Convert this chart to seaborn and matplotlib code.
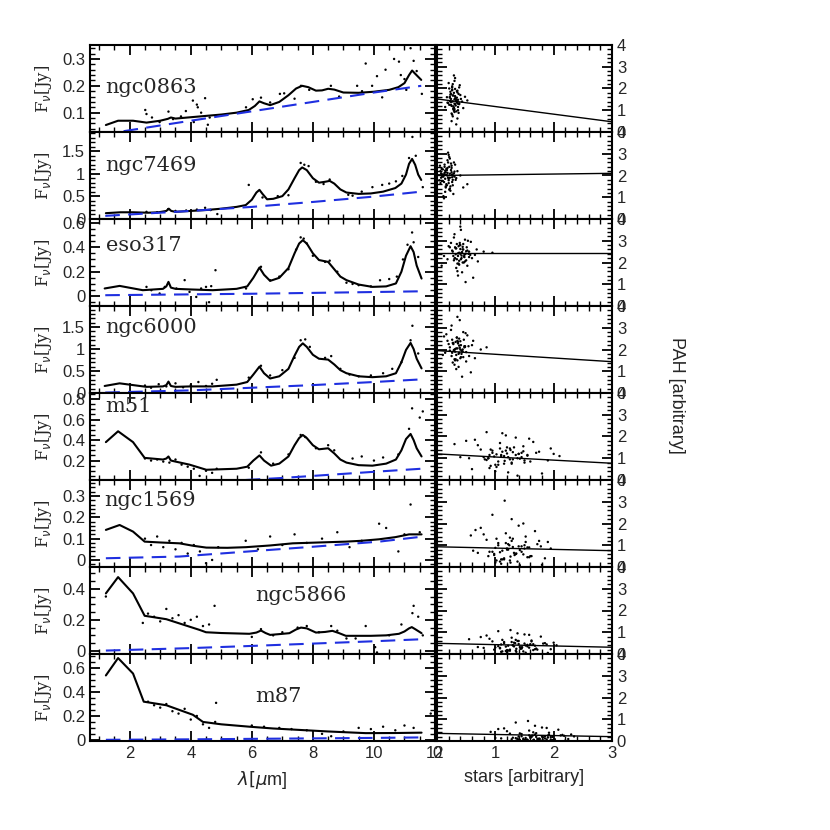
import matplotlib
matplotlib.use("Agg")
import matplotlib.pyplot as plt
import seaborn as sns
import pandas as pd
from matplotlib.ticker import MultipleLocator, FuncFormatter

sns.set_style("ticks")
plt.rcParams['font.family'] = ['Liberation Sans', 'DejaVu Sans']
plt.rcParams['mathtext.fontset'] = 'dejavusans'

names = ['ngc0863', 'ngc7469', 'eso317', 'ngc6000', 'm51', 'ngc1569', 'ngc5866', 'm87']

# model spectra (solid black)
fit_x = {
    'ngc0863': [1.22, 1.62, 2.11, 2.55, 3.0, 3.25, 3.35, 3.5, 4.0, 4.5, 5.0, 5.5, 5.9, 6.1, 6.25, 6.4, 6.6, 6.9, 7.2, 7.45, 7.65, 7.85, 8.1, 8.3, 8.5, 8.7, 9.0, 9.5, 10.0, 10.5, 10.8, 11.0, 11.15, 11.25, 11.35, 11.55],
    'ngc7469': [1.22, 1.7, 2.1, 2.6, 2.95, 3.2, 3.28, 3.36, 3.5, 4.0, 4.5, 5.0, 5.5, 5.8, 6.0, 6.15, 6.25, 6.35, 6.5, 6.7, 7.0, 7.2, 7.4, 7.55, 7.65, 7.8, 8.0, 8.2, 8.4, 8.55, 8.7, 8.9, 9.1, 9.5, 9.9, 10.3, 10.7, 10.9, 11.05, 11.15, 11.25, 11.35, 11.45, 11.55],
    'eso317': [1.18, 1.67, 2.43, 3.09, 3.2, 3.27, 3.35, 3.5, 4.0, 4.72, 5.5, 5.85, 6.05, 6.25, 6.4, 6.6, 6.9, 7.2, 7.4, 7.55, 7.67, 7.8, 8.0, 8.2, 8.5, 8.7, 8.9, 9.1, 9.5, 9.95, 10.4, 10.72, 10.9, 11.05, 11.2, 11.3, 11.4, 11.56],
    'ngc6000': [1.18, 1.67, 2.55, 3.09, 3.2, 3.27, 3.35, 3.5, 4.0, 4.72, 5.5, 5.85, 6.05, 6.25, 6.4, 6.6, 6.9, 7.2, 7.4, 7.55, 7.67, 7.8, 8.0, 8.2, 8.5, 8.7, 8.9, 9.1, 9.5, 9.95, 10.4, 10.72, 10.9, 11.05, 11.2, 11.3, 11.4, 11.56],
    'm51': [1.22, 1.62, 2.11, 2.49, 3.09, 3.2, 3.27, 3.35, 3.5, 3.96, 4.51, 5.0, 5.5, 5.85, 6.05, 6.25, 6.4, 6.63, 6.9, 7.2, 7.4, 7.55, 7.67, 7.8, 8.0, 8.2, 8.5, 8.7, 8.9, 9.1, 9.5, 9.95, 10.4, 10.72, 10.9, 11.05, 11.2, 11.3, 11.4, 11.56],
    'ngc1569': [1.22, 1.67, 2.11, 2.49, 3.0, 3.63, 4.1, 4.51, 5.2, 5.81, 6.6, 7.34, 8.2, 9.08, 9.6, 10.17, 10.7, 11.15, 11.56],
    'ngc5866': [1.22, 1.62, 2.11, 2.49, 3.2, 4.29, 4.5, 5.0, 5.92, 6.15, 6.3, 6.45, 6.6, 6.9, 7.23, 7.45, 7.61, 7.8, 8.1, 8.4, 8.64, 8.85, 9.08, 9.5, 9.9, 10.4, 10.82, 11.0, 11.15, 11.24, 11.35, 11.56],
    'm87': [1.22, 1.62, 2.11, 2.46, 3.2, 4.07, 4.4, 5.0, 5.92, 6.7, 7.56, 8.5, 9.73, 10.7, 11.56],
}
fit_y = {
    'ngc0863': [0.054, 0.070, 0.070, 0.063, 0.070, 0.077, 0.082, 0.078, 0.083, 0.088, 0.093, 0.100, 0.110, 0.125, 0.142, 0.135, 0.128, 0.140, 0.165, 0.190, 0.200, 0.195, 0.182, 0.183, 0.189, 0.186, 0.175, 0.174, 0.178, 0.185, 0.195, 0.210, 0.240, 0.257, 0.245, 0.222],
    'ngc7469': [0.12, 0.14, 0.14, 0.13, 0.14, 0.17, 0.22, 0.17, 0.15, 0.17, 0.19, 0.22, 0.26, 0.30, 0.42, 0.58, 0.64, 0.55, 0.43, 0.44, 0.50, 0.65, 0.90, 1.08, 1.14, 1.08, 0.90, 0.80, 0.82, 0.84, 0.78, 0.65, 0.58, 0.55, 0.56, 0.60, 0.68, 0.78, 0.98, 1.22, 1.33, 1.20, 0.98, 0.86],
    'eso317': [0.063, 0.084, 0.049, 0.060, 0.080, 0.117, 0.070, 0.060, 0.055, 0.049, 0.060, 0.080, 0.150, 0.234, 0.175, 0.125, 0.150, 0.230, 0.350, 0.430, 0.457, 0.430, 0.350, 0.295, 0.280, 0.220, 0.160, 0.131, 0.095, 0.076, 0.080, 0.104, 0.200, 0.330, 0.408, 0.360, 0.250, 0.144],
    'ngc6000': [0.16, 0.22, 0.14, 0.15, 0.18, 0.26, 0.16, 0.14, 0.15, 0.15, 0.19, 0.25, 0.42, 0.60, 0.45, 0.33, 0.38, 0.55, 0.85, 1.05, 1.13, 1.05, 0.87, 0.78, 0.76, 0.65, 0.52, 0.45, 0.38, 0.36, 0.38, 0.45, 0.70, 0.98, 1.14, 1.00, 0.78, 0.56],
    'm51': [0.38, 0.486, 0.38, 0.226, 0.21, 0.22, 0.24, 0.20, 0.19, 0.16, 0.11, 0.115, 0.12, 0.14, 0.20, 0.25, 0.20, 0.15, 0.17, 0.24, 0.35, 0.42, 0.45, 0.42, 0.35, 0.31, 0.32, 0.27, 0.21, 0.18, 0.155, 0.15, 0.17, 0.21, 0.30, 0.41, 0.46, 0.40, 0.32, 0.24],
    'ngc1569': [0.141, 0.164, 0.133, 0.086, 0.082, 0.078, 0.066, 0.058, 0.057, 0.060, 0.068, 0.078, 0.082, 0.086, 0.090, 0.097, 0.107, 0.120, 0.120],
    'ngc5866': [0.37, 0.475, 0.37, 0.226, 0.204, 0.135, 0.12, 0.115, 0.11, 0.118, 0.131, 0.115, 0.103, 0.108, 0.114, 0.138, 0.150, 0.145, 0.118, 0.122, 0.129, 0.115, 0.097, 0.097, 0.097, 0.100, 0.110, 0.125, 0.145, 0.153, 0.140, 0.114],
    'm87': [0.54, 0.686, 0.556, 0.32, 0.29, 0.21, 0.15, 0.13, 0.11, 0.095, 0.083, 0.07, 0.056, 0.057, 0.06],
}

# stellar continuum (blue dashed)
cont_x = {
    'ngc0863': [1.8, 4.0, 6.0, 8.0, 10.0, 11.55],
    'ngc7469': [1.2, 4.0, 6.0, 8.0, 10.0, 11.55],
    'eso317': [1.2, 4.0, 6.0, 8.0, 10.0, 11.55],
    'ngc6000': [1.2, 4.0, 6.0, 8.0, 10.0, 11.55],
    'm51': [5.8, 7.0, 8.0, 9.0, 10.0, 11.55],
    'ngc1569': [1.22, 3.63, 5.81, 8.0, 10.17, 11.56],
    'ngc5866': [1.22, 4.0, 6.0, 8.0, 10.0, 11.56],
    'm87': [1.22, 4.0, 6.0, 8.0, 10.0, 11.56],
}
cont_y = {
    'ngc0863': [0.031, 0.070, 0.105, 0.140, 0.175, 0.200],
    'ngc7469': [0.06, 0.17, 0.26, 0.37, 0.49, 0.60],
    'eso317': [0.008, 0.015, 0.020, 0.027, 0.034, 0.040],
    'ngc6000': [0.01, 0.06, 0.12, 0.18, 0.25, 0.31],
    'm51': [0.01, 0.03, 0.05, 0.07, 0.09, 0.12],
    'ngc1569': [0.008, 0.016, 0.039, 0.062, 0.086, 0.109],
    'ngc5866': [0.002, 0.018, 0.032, 0.047, 0.062, 0.075],
    'm87': [0.0, 0.004, 0.008, 0.012, 0.016, 0.020],
}

# observed spectrum points
obs_x = {
    'ngc0863': [2.51, 2.55, 2.73, 2.98, 3.27, 3.42, 3.68, 3.84, 4.07, 4.23, 4.34, 4.47, 4.56, 4.62, 4.2, 4.1, 5.81, 6.03, 6.3, 6.6, 6.92, 7.06, 7.4, 7.61, 7.88, 8.59, 8.86, 9.45, 9.61, 9.73, 9.94, 10.1, 10.27, 10.38, 10.66, 10.88, 10.82, 11.0, 11.2, 11.3, 11.4, 11.57, 11.06],
    'ngc7469': [2.55, 2.9, 3.26, 3.5, 3.85, 4.2, 4.47, 4.65, 4.87, 5.9, 6.35, 6.85, 7.2, 7.6, 7.72, 7.86, 8.1, 8.35, 8.55, 9.16, 9.3, 9.6, 9.95, 10.27, 10.5, 10.72, 10.93, 11.15, 11.37, 11.26, 11.6],
    'eso317': [2.55, 2.71, 2.98, 3.15, 3.53, 3.8, 3.96, 4.18, 4.34, 4.5, 4.67, 4.81, 4.6, 5.81, 6.3, 6.6, 6.9, 7.2, 7.45, 7.6, 7.7, 7.8, 8.0, 8.4, 8.55, 8.8, 9.1, 9.3, 9.5, 9.9, 10.2, 10.5, 10.75, 10.95, 11.1, 11.3, 11.45, 11.25],
    'ngc6000': [2.5, 2.7, 2.95, 3.2, 3.5, 3.75, 4.0, 4.25, 4.5, 4.7, 4.85, 5.9, 6.3, 6.6, 7.0, 7.4, 7.6, 7.75, 7.9, 8.4, 8.6, 8.9, 9.2, 9.5, 9.9, 10.3, 10.6, 10.9, 11.2, 11.26, 11.45],
    'm51': [2.5, 2.7, 2.9, 3.1, 3.3, 3.5, 3.7, 3.9, 4.1, 4.29, 4.5, 4.7, 4.85, 5.9, 6.3, 6.7, 7.2, 7.6, 7.75, 8.1, 8.5, 8.7, 9.3, 9.6, 10.0, 10.3, 10.8, 11.15, 11.25, 11.5, 11.6],
    'ngc1569': [2.5, 2.7, 2.9, 3.1, 3.3, 3.5, 3.7, 3.9, 4.1, 4.3, 4.5, 4.7, 4.9, 5.8, 6.2, 6.6, 7.0, 7.4, 7.8, 8.3, 8.8, 9.2, 9.6, 10.17, 10.4, 10.8, 11.0, 11.2, 11.5],
    'ngc5866': [1.22, 2.43, 2.6, 2.8, 3.0, 3.2, 3.4, 3.6, 3.8, 4.0, 4.2, 4.4, 4.6, 4.78, 6.0, 6.3, 6.7, 7.0, 7.5, 7.8, 8.2, 8.6, 8.8, 9.1, 9.4, 9.73, 10.04, 10.1, 10.5, 10.9, 11.26, 11.3, 11.45, 11.6],
    'm87': [2.6, 2.8, 3.0, 3.2, 3.4, 3.6, 3.8, 4.0, 4.2, 4.4, 4.6, 4.8, 4.83, 6.0, 6.4, 6.9, 7.3, 7.8, 8.3, 8.6, 9.0, 9.5, 9.9, 10.3, 10.7, 11.0, 11.3, 11.86],
}
obs_y = {
    'ngc0863': [0.110, 0.095, 0.082, 0.065, 0.104, 0.076, 0.086, 0.106, 0.145, 0.120, 0.100, 0.154, 0.055, 0.082, 0.130, 0.065, 0.120, 0.150, 0.156, 0.138, 0.170, 0.172, 0.152, 0.200, 0.185, 0.200, 0.160, 0.200, 0.180, 0.283, 0.200, 0.236, 0.157, 0.260, 0.300, 0.240, 0.290, 0.225, 0.340, 0.293, 0.255, 0.170, 0.185],
    'ngc7469': [0.15, 0.14, 0.21, 0.17, 0.18, 0.20, 0.24, 0.19, 0.10, 0.75, 0.47, 0.50, 0.52, 1.24, 1.20, 1.17, 0.82, 0.77, 0.87, 0.53, 0.51, 0.60, 0.70, 0.75, 0.78, 0.83, 0.95, 1.35, 1.40, 1.82, 0.70],
    'eso317': [0.076, 0.049, 0.022, 0.076, 0.063, 0.131, 0.035, -0.006, 0.063, 0.076, 0.082, 0.212, -0.049, 0.063, 0.24, 0.13, 0.16, 0.22, 0.38, 0.48, 0.47, 0.43, 0.33, 0.28, 0.29, 0.20, 0.11, 0.10, 0.09, 0.08, 0.13, 0.14, 0.16, 0.30, 0.42, 0.44, 0.32, 0.52],
    'ngc6000': [0.17, 0.12, 0.20, 0.15, 0.22, 0.13, 0.18, 0.25, 0.16, 0.21, 0.30, 0.35, 0.62, 0.40, 0.52, 0.80, 1.20, 1.22, 1.05, 0.80, 0.84, 0.55, 0.42, 0.38, 0.40, 0.45, 0.55, 0.70, 1.20, 1.53, 0.90],
    'm51': [0.22, 0.20, 0.21, 0.19, 0.18, 0.21, 0.16, 0.14, 0.12, 0.05, 0.10, 0.08, 0.12, 0.13, 0.28, 0.17, 0.26, 0.45, 0.43, 0.32, 0.35, 0.30, 0.22, 0.24, 0.20, 0.23, 0.26, 0.51, 0.71, 0.62, 0.68],
    'ngc1569': [0.10, 0.07, 0.11, 0.06, 0.09, 0.05, 0.08, 0.03, 0.07, 0.04, -0.015, 0.00, 0.06, 0.09, 0.05, 0.11, 0.07, 0.12, 0.08, 0.10, 0.13, 0.06, 0.09, 0.17, 0.15, 0.04, 0.12, 0.26, 0.13],
    'ngc5866': [0.35, 0.18, 0.24, 0.22, 0.19, 0.27, 0.21, 0.23, 0.18, 0.20, 0.22, 0.16, 0.17, 0.29, 0.09, 0.14, 0.10, 0.12, 0.15, 0.16, 0.12, 0.16, 0.13, 0.08, 0.08, 0.16, 0.024, -0.01, 0.10, 0.17, 0.243, 0.29, 0.22, 0.10],
    'm87': [0.32, 0.29, 0.27, 0.30, 0.24, 0.22, 0.26, 0.17, 0.20, 0.13, 0.10, 0.15, 0.31, 0.12, 0.11, 0.10, 0.09, 0.08, 0.05, 0.03, 0.07, 0.10, 0.09, 0.11, 0.08, 0.12, 0.10, 0.22],
}

# PAH vs stars scatter (right column): outer spread ...
pah_x = {
    'ngc0863': [0.22, 0.31, 0.28, 0.35, 0.19, 0.41, 0.26, 0.33, 0.24, 0.38, 0.30, 0.17, 0.45, 0.27, 0.36, 0.21, 0.32, 0.29, 0.40, 0.25, 0.34, 0.23, 0.37, 0.31, 0.28, 0.20, 0.43, 0.26, 0.35, 0.30, 0.52, 0.14, 0.39, 0.27, 0.33, 0.24, 0.29, 0.36, 0.22, 0.48, 0.31, 0.26, 0.34, 0.18, 0.38],
    'ngc7469': [0.12, 0.20, 0.08, 0.25, 0.16, 0.30, 0.05, 0.22, 0.18, 0.28, 0.10, 0.35, 0.14, 0.24, 0.19, 0.07, 0.27, 0.21, 0.32, 0.11, 0.17, 0.26, 0.40, 0.13, 0.23, 0.09, 0.29, 0.15, 0.20, 0.33, 0.06, 0.25, 0.18, 0.45, 0.12, 0.22, 0.28, 0.16, 0.04, 0.31, 0.21, 0.14, 0.26, 0.52, 0.19],
    'eso317': [0.40, 0.32, 0.50, 0.45, 0.28, 0.55, 0.38, 0.60, 0.22, 0.48, 0.35, 0.42, 0.65, 0.30, 0.52, 0.44, 0.18, 0.58, 0.36, 0.47, 0.26, 0.70, 0.41, 0.33, 0.54, 0.39, 0.12, 0.62, 0.46, 0.29, 0.51, 0.37, 0.80, 0.43, 0.24, 0.57, 0.34, 0.49, 0.20, 0.68, 0.40, 0.31, 0.95, 0.53, 0.08],
    'ngc6000': [0.35, 0.28, 0.42, 0.38, 0.22, 0.48, 0.32, 0.55, 0.18, 0.45, 0.30, 0.40, 0.60, 0.25, 0.50, 0.36, 0.14, 0.52, 0.33, 0.44, 0.20, 0.65, 0.39, 0.27, 0.47, 0.34, 0.10, 0.58, 0.41, 0.24, 0.46, 0.31, 0.75, 0.37, 0.16, 0.54, 0.29, 0.43, 0.12, 0.62, 0.35, 0.26, 0.85, 0.49, 0.06],
    'm51': [1.10, 0.95, 1.30, 1.20, 0.80, 1.45, 1.05, 1.60, 0.70, 1.35, 0.90, 1.15, 1.75, 0.85, 1.50, 1.25, 0.55, 1.65, 1.00, 1.40, 0.75, 1.90, 1.18, 0.92, 1.55, 1.08, 0.40, 1.80, 1.28, 0.65, 1.48, 1.02, 2.10, 1.22, 0.50, 1.70, 0.88, 1.38, 0.30, 1.95, 1.12, 0.82, 2.00, 1.58, 0.60],
    'ngc1569': [1.20, 1.05, 1.35, 1.25, 0.90, 1.50, 1.15, 1.62, 0.80, 1.40, 1.00, 1.22, 1.75, 0.95, 1.55, 1.30, 0.70, 1.68, 1.10, 1.45, 0.85, 1.85, 1.28, 1.02, 1.58, 1.18, 0.62, 1.80, 1.33, 0.75, 1.52, 1.08, 1.95, 1.26, 0.66, 1.72, 0.98, 1.42, 0.58, 1.90, 1.16, 0.88, 1.78, 1.48, 1.12],
    'ngc5866': [1.30, 1.15, 1.45, 1.35, 1.00, 1.60, 1.25, 1.72, 0.90, 1.50, 1.10, 1.32, 1.85, 1.05, 1.65, 1.40, 0.80, 1.78, 1.20, 1.55, 0.95, 1.95, 1.38, 1.12, 1.68, 1.28, 0.70, 1.90, 1.43, 0.85, 1.62, 1.18, 2.05, 1.36, 0.75, 1.82, 1.08, 1.52, 0.55, 2.00, 1.26, 0.98, 1.88, 1.58, 1.22],
    'm87': [1.60, 1.45, 1.75, 1.65, 1.30, 1.90, 1.55, 2.02, 1.20, 1.80, 1.40, 1.62, 2.15, 1.35, 1.95, 1.70, 1.10, 2.08, 1.50, 1.85, 1.25, 2.25, 1.68, 1.42, 1.98, 1.58, 1.00, 2.20, 1.73, 1.15, 1.92, 1.48, 2.35, 1.66, 1.05, 2.12, 1.38, 1.82, 0.92, 2.30, 1.56, 1.28, 2.18, 1.88, 1.52],
}
pah_y = {
    'ngc0863': [1.42, 1.65, 1.18, 1.90, 1.33, 1.52, 2.10, 0.95, 1.75, 1.28, 2.35, 1.60, 1.10, 0.72, 1.48, 2.00, 1.22, 2.60, 1.70, 0.50, 1.38, 1.85, 0.88, 1.55, 1.05, 2.25, 1.40, 1.95, 0.62, 1.30, 1.45, 1.15, 2.15, 1.68, 0.35, 1.25, 1.80, 1.00, 1.58, 1.62, 2.48, 0.80, 1.88, 1.35, 2.05],
    'ngc7469': [2.05, 1.85, 2.30, 2.15, 1.60, 1.95, 2.45, 1.40, 2.70, 2.00, 1.75, 2.20, 1.25, 2.55, 1.90, 2.10, 1.55, 2.85, 1.80, 1.05, 2.25, 1.70, 2.00, 2.40, 1.30, 1.95, 2.60, 1.50, 2.95, 1.88, 1.65, 2.35, 2.12, 1.45, 0.95, 2.78, 1.15, 2.02, 1.78, 2.50, 1.35, 2.22, 1.92, 1.60, 3.05],
    'eso317': [2.40, 2.65, 2.10, 2.85, 2.30, 2.50, 1.90, 2.20, 2.70, 3.05, 1.60, 2.45, 2.35, 3.30, 1.85, 2.60, 2.15, 2.95, 1.40, 2.25, 2.55, 2.05, 3.50, 1.75, 2.40, 2.80, 2.30, 1.30, 2.00, 3.15, 2.70, 1.95, 2.50, 1.55, 2.90, 2.35, 2.15, 1.10, 2.75, 2.60, 3.65, 2.20, 2.45, 3.00, 1.85],
    'ngc6000': [2.05, 2.30, 1.80, 2.50, 1.95, 2.15, 1.55, 1.70, 2.40, 2.80, 1.30, 2.00, 2.20, 3.10, 1.45, 2.35, 1.85, 2.65, 1.10, 1.90, 2.25, 1.60, 3.35, 1.40, 2.10, 2.55, 1.75, 0.95, 1.65, 2.90, 2.45, 1.50, 2.00, 1.20, 2.70, 2.15, 1.95, 0.75, 2.60, 2.40, 3.50, 1.85, 2.10, 2.75, 1.35],
    'm51': [1.15, 1.35, 0.95, 1.50, 1.05, 1.25, 0.70, 0.85, 1.60, 1.95, 0.55, 1.10, 1.30, 2.20, 0.80, 1.45, 1.00, 1.75, 0.40, 1.20, 1.40, 0.90, 2.05, 0.65, 1.15, 1.70, 1.05, 0.30, 0.75, 1.85, 1.55, 0.60, 1.10, 0.35, 1.80, 1.25, 1.00, 0.20, 1.65, 1.45, 2.15, 0.95, 1.20, 1.90, 0.50],
    'ngc1569': [0.85, 1.10, 0.60, 1.35, 0.70, 1.00, 0.35, 0.50, 1.50, 1.90, 0.20, 0.80, 1.20, 2.40, 0.45, 1.30, 0.65, 1.65, 0.15, 0.95, 1.25, 0.40, 2.20, 0.30, 0.90, 1.55, 0.75, 0.10, 0.55, 1.80, 1.40, 0.25, 0.85, 0.20, 1.70, 1.05, 0.60, 0.08, 1.45, 1.15, 3.05, 0.50, 0.95, 2.00, 0.35],
    'ngc5866': [0.40, 0.55, 0.25, 0.65, 0.30, 0.45, 0.15, 0.20, 0.70, 0.90, 0.10, 0.35, 0.50, 1.05, 0.18, 0.60, 0.28, 0.80, 0.08, 0.42, 0.58, 0.22, 0.95, 0.12, 0.38, 0.75, 0.32, 0.05, 0.24, 0.85, 0.62, 0.14, 0.40, 0.10, 0.78, 0.48, 0.26, 0.06, 0.68, 0.52, 1.10, 0.20, 0.44, 0.88, 0.16],
    'm87': [0.20, 0.32, 0.10, 0.40, 0.15, 0.25, 0.06, 0.08, 0.45, 0.62, 0.04, 0.18, 0.28, 0.85, 0.07, 0.36, 0.12, 0.52, 0.03, 0.22, 0.34, 0.09, 0.70, 0.05, 0.19, 0.48, 0.14, 0.02, 0.10, 0.58, 0.38, 0.06, 0.21, 0.04, 0.55, 0.26, 0.11, 0.03, 0.42, 0.30, 0.92, 0.08, 0.24, 0.60, 0.07],
}
# ... and dense core of each cloud
core_x = {
    'ngc0863': [0.25, 0.30, 0.34, 0.22, 0.28, 0.37, 0.31, 0.26, 0.33, 0.29, 0.24, 0.36, 0.27, 0.32, 0.21, 0.35, 0.30, 0.28, 0.38, 0.25, 0.33, 0.23, 0.29, 0.31, 0.27, 0.34, 0.26, 0.30, 0.36, 0.24],
    'ngc7469': [0.10, 0.15, 0.22, 0.18, 0.08, 0.26, 0.13, 0.20, 0.24, 0.11, 0.17, 0.29, 0.06, 0.21, 0.14, 0.27, 0.19, 0.09, 0.23, 0.16, 0.12, 0.25, 0.18, 0.07, 0.30, 0.15, 0.22, 0.10, 0.20, 0.13],
    'eso317': [0.38, 0.42, 0.33, 0.47, 0.40, 0.29, 0.52, 0.36, 0.44, 0.31, 0.49, 0.39, 0.35, 0.45, 0.27, 0.41, 0.55, 0.37, 0.43, 0.32, 0.48, 0.40, 0.34, 0.46, 0.30, 0.50, 0.38, 0.44, 0.36, 0.42],
    'ngc6000': [0.33, 0.38, 0.28, 0.42, 0.35, 0.25, 0.47, 0.31, 0.40, 0.27, 0.44, 0.34, 0.30, 0.41, 0.22, 0.37, 0.50, 0.32, 0.39, 0.29, 0.45, 0.36, 0.26, 0.43, 0.33, 0.48, 0.35, 0.40, 0.31, 0.38],
    'm51': [1.10, 1.25, 0.95, 1.35, 1.05, 1.45, 1.18, 0.88, 1.30, 1.02, 1.50, 1.15, 0.92, 1.40, 1.22, 1.08, 1.55, 0.85, 1.28, 1.12, 1.38, 0.98, 1.20, 1.48, 1.00, 1.32, 1.16, 1.42, 0.90, 1.26],
    'ngc1569': [1.20, 1.35, 1.05, 1.45, 1.15, 1.55, 1.28, 0.98, 1.40, 1.12, 1.60, 1.25, 1.02, 1.50, 1.32, 1.18, 1.58, 0.95, 1.38, 1.22, 1.48, 1.08, 1.30, 1.52, 1.10, 1.42, 1.26, 1.36, 1.00, 1.24],
    'ngc5866': [1.30, 1.45, 1.15, 1.55, 1.25, 1.65, 1.38, 1.08, 1.50, 1.22, 1.70, 1.35, 1.12, 1.60, 1.42, 1.28, 1.68, 1.05, 1.48, 1.32, 1.58, 1.18, 1.40, 1.62, 1.20, 1.52, 1.36, 1.46, 1.10, 1.34],
    'm87': [1.60, 1.75, 1.45, 1.85, 1.55, 1.95, 1.68, 1.38, 1.80, 1.52, 2.00, 1.65, 1.42, 1.90, 1.72, 1.58, 1.98, 1.35, 1.78, 1.62, 1.88, 1.48, 1.70, 1.92, 1.50, 1.82, 1.66, 1.76, 1.40, 1.64],
}
core_y = {
    'ngc0863': [1.20, 1.50, 1.35, 1.62, 1.08, 1.75, 1.28, 1.92, 1.45, 0.98, 1.38, 1.15, 2.20, 1.55, 1.25, 1.82, 1.05, 1.68, 1.32, 0.85, 1.48, 1.72, 1.12, 1.98, 1.40, 1.58, 2.05, 0.92, 1.30, 1.52],
    'ngc7469': [2.00, 2.15, 1.90, 2.35, 1.75, 2.05, 2.50, 1.65, 2.25, 1.95, 1.55, 2.10, 2.20, 2.40, 1.85, 1.80, 2.60, 2.05, 1.50, 2.30, 1.70, 2.45, 2.00, 1.90, 2.18, 1.45, 2.08, 2.28, 1.78, 2.12],
    'eso317': [2.45, 2.20, 2.65, 2.35, 2.80, 2.10, 2.55, 2.30, 2.00, 2.70, 2.40, 2.90, 1.95, 2.60, 2.50, 2.15, 2.25, 2.75, 2.48, 2.38, 2.05, 2.62, 2.85, 2.28, 2.18, 2.52, 2.08, 2.72, 2.42, 2.32],
    'ngc6000': [2.05, 1.85, 2.25, 1.95, 2.40, 1.70, 2.15, 1.90, 1.60, 2.30, 2.00, 2.55, 1.55, 2.20, 2.10, 1.80, 1.88, 2.35, 2.08, 1.98, 1.65, 2.28, 2.45, 1.92, 1.75, 2.12, 1.50, 2.38, 2.02, 2.18],
    'm51': [1.10, 0.95, 1.25, 1.15, 0.85, 1.05, 1.35, 1.00, 1.28, 1.18, 0.90, 0.75, 1.40, 1.20, 1.05, 1.45, 1.12, 0.92, 0.80, 1.30, 1.00, 1.08, 1.22, 1.32, 0.70, 1.50, 0.88, 0.98, 1.15, 1.38],
    'ngc1569': [0.80, 0.60, 1.00, 0.70, 0.40, 0.90, 1.20, 0.55, 0.95, 0.75, 0.50, 0.30, 1.30, 0.85, 0.65, 1.10, 0.45, 0.70, 0.25, 1.05, 0.58, 0.68, 0.92, 1.15, 0.35, 0.78, 0.48, 0.62, 0.88, 1.00],
    'ngc5866': [0.40, 0.30, 0.50, 0.35, 0.20, 0.45, 0.60, 0.28, 0.48, 0.38, 0.25, 0.15, 0.65, 0.42, 0.32, 0.55, 0.22, 0.36, 0.12, 0.52, 0.29, 0.34, 0.46, 0.58, 0.18, 0.39, 0.24, 0.31, 0.44, 0.50],
    'm87': [0.15, 0.10, 0.22, 0.12, 0.05, 0.18, 0.30, 0.08, 0.20, 0.14, 0.06, 0.03, 0.35, 0.16, 0.09, 0.26, 0.04, 0.13, 0.02, 0.24, 0.07, 0.11, 0.19, 0.28, 0.04, 0.17, 0.06, 0.10, 0.21, 0.25],
}
# straight-line fit in each right panel (x = 0 and x = 3)
fitline_y0 = [1.52, 2.00, 2.45, 1.95, 1.20, 0.93, 0.49, 0.35]
fitline_y3 = [0.47, 2.10, 2.45, 1.44, 0.77, 0.75, 0.31, 0.20]

ylims = [(0.028, 0.352), (-0.01, 1.93), (-0.08, 0.63), (0.0, 1.98),
         (0.01, 0.86), (-0.033, 0.375), (-0.02, 0.54), (-0.01, 0.72)]
ymajor = [0.1, 0.5, 0.2, 0.5, 0.2, 0.1, 0.2, 0.2]
yminor = [0.02, 0.1, 0.05, 0.1, 0.05, 0.02, 0.05, 0.05]
label_pos = [(0.045, 0.51), (0.045, 0.62), (0.045, 0.70), (0.045, 0.75),
             (0.045, 0.85), (0.04, 0.77), (0.48, 0.67), (0.48, 0.51)]

fig = plt.figure(figsize=(8.3, 8.3), dpi=100)
fmt = FuncFormatter(lambda v, p: '%g' % round(v, 3))
W, H = 830.0, 830.0
ph = 87


def style_ax(ax):
    for s in ax.spines.values():
        s.set_linewidth(1.5)
        s.set_color('black')
    ax.tick_params(which='both', direction='in', top=True, right=True,
                   color='black', labelsize=12)
    ax.tick_params(which='major', length=7, width=1.3)
    ax.tick_params(which='minor', length=3.5, width=1.0)
    ax.set_xlabel('')
    ax.set_ylabel('')


for i, name in enumerate(names):
    top = 45 + ph * i
    bottom = 1 - (top + ph) / H
    axl = fig.add_axes([90 / W, bottom, 345 / W, ph / H])
    axr = fig.add_axes([437 / W, bottom, 175 / W, ph / H])

    # left: spectrum
    sns.scatterplot(x=obs_x[name], y=obs_y[name], ax=axl, s=3, color='black',
                    edgecolor='none', legend=False)
    sns.lineplot(x=fit_x[name], y=fit_y[name], ax=axl, color='black', lw=1.5)
    sns.lineplot(x=cont_x[name], y=cont_y[name], ax=axl, color='#1f2fe0',
                 lw=1.5, dashes=False, linestyle=(0, (7, 4)))
    axl.set_xlim(0.7, 12)
    axl.set_ylim(*ylims[i])
    axl.xaxis.set_major_locator(MultipleLocator(2))
    axl.xaxis.set_minor_locator(MultipleLocator(0.5))
    axl.yaxis.set_major_locator(MultipleLocator(ymajor[i]))
    axl.yaxis.set_minor_locator(MultipleLocator(yminor[i]))
    axl.yaxis.set_major_formatter(fmt)
    style_ax(axl)
    axl.text(label_pos[i][0], label_pos[i][1], name, transform=axl.transAxes,
             ha='left', va='center', fontsize=15, family='DejaVu Serif')
    axl.set_ylabel(r'F$_\nu$[Jy]', fontsize=12, family='DejaVu Serif', labelpad=6)

    # right: PAH vs stars
    cloud = pd.DataFrame({'x': pah_x[name] + core_x[name],
                          'y': pah_y[name] + core_y[name]})
    sns.scatterplot(data=cloud, x='x', y='y', ax=axr, s=3, color='black',
                    edgecolor='none', legend=False)
    line = pd.DataFrame({'x': [0, 3], 'y': [fitline_y0[i], fitline_y3[i]]})
    sns.lineplot(data=line, x='x', y='y', ax=axr, color='black', lw=1.0)
    axr.set_xlim(0, 3)
    axr.set_ylim(0, 4)
    axr.xaxis.set_major_locator(MultipleLocator(1))
    axr.xaxis.set_minor_locator(MultipleLocator(0.2))
    axr.yaxis.set_major_locator(MultipleLocator(1))
    axr.yaxis.set_minor_locator(MultipleLocator(0.2))
    axr.yaxis.set_major_formatter(fmt)
    style_ax(axr)
    axr.tick_params(labelleft=False, labelright=True)

    if i < len(names) - 1:
        axl.tick_params(labelbottom=False)
        axr.tick_params(labelbottom=False)
    else:
        axl.xaxis.set_major_formatter(fmt)
        axr.xaxis.set_major_formatter(fmt)
        axl.set_xlabel(r'$\lambda[\mu$m]', fontsize=13, labelpad=6)
        axr.set_xlabel('stars [arbitrary]', fontsize=13, labelpad=6)

fig.text(676 / W, 1 - 395 / H, 'PAH [arbitrary]', rotation=270, fontsize=13,
         ha='center', va='center')

fig.savefig('out.png', dpi=100)
